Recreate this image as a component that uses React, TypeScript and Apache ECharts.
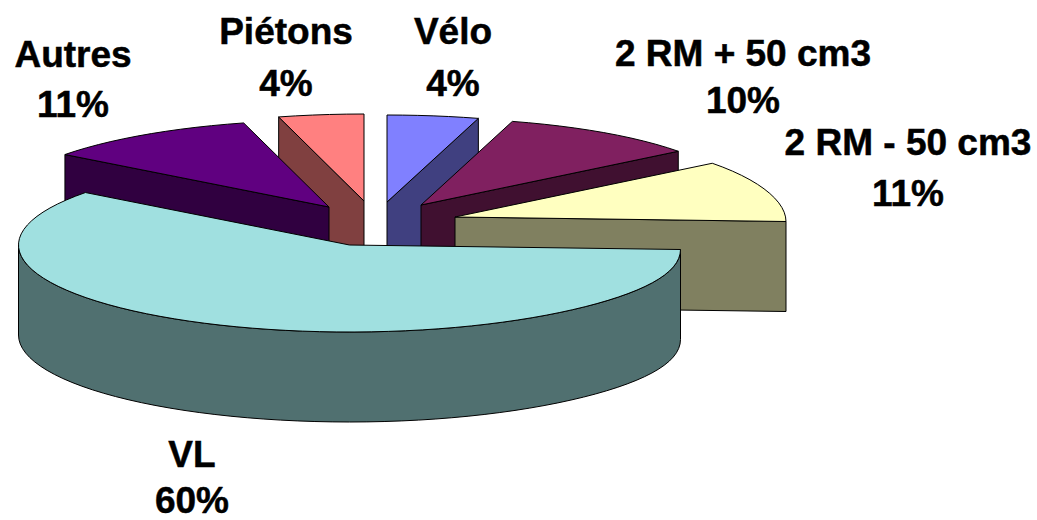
import React, { useEffect, useRef } from "react";
import * as echarts from "echarts";

// Clockwise from 12 o'clock
const categories = ["Vélo", "2 RM + 50 cm3", "2 RM - 50 cm3", "VL", "Autres", "Piétons"];
const values = [4.45, 9.72, 10.83, 60.3, 10.55, 4.15];
const topColors = ["#8080FF", "#802060", "#FFFFC0", "#A0E0E0", "#600080", "#FF8080"];
const sideColors = ["#404080", "#401030", "#808060", "#507070", "#300040", "#804040"];
// Exploded position of each slice's apex
const apexX = [387, 421, 455, 349.5, 329, 364];
const apexY = [202, 205, 217, 245, 207, 201];
// Painter's order, back to front
const drawOrder = [5, 0, 1, 4, 2, 3];
// Label centres: [x, first line y, second line y]
const labelPos = [
  [453, 31, 83],
  [743, 53, 100],
  [908, 142, 193],
  [192, 454, 500],
  [73, 54, 104],
  [286, 31, 83],
];

const RX = 331;
const RY = 87;
const DEPTH = 90;
const DROOP = 4.5;
const STEP = 3;

const total = values.reduce((a, b) => a + b, 0);
const startAngles: number[] = [];
values.reduce((acc, v, i) => {
  startAngles[i] = acc;
  return acc + (v / total) * 360;
}, 0);

function project(i: number, deg: number, dz = 0): number[] {
  const a = (deg * Math.PI) / 180;
  const s = Math.sin(a);
  const droop = s > 0 ? DROOP * Math.pow(s, 6) : 0;
  return [apexX[i] + RX * s, apexY[i] - RY * Math.cos(a) + droop + dz];
}

function arcPoints(i: number, from: number, to: number, dz = 0): number[][] {
  const pts: number[][] = [];
  const n = Math.max(1, Math.ceil((to - from) / STEP));
  for (let k = 0; k <= n; k++) pts.push(project(i, from + ((to - from) * k) / n, dz));
  return pts;
}

function poly(points: number[][], fill: string) {
  return {
    type: "polygon",
    shape: { points },
    style: { fill, stroke: "#000", lineWidth: 1, lineJoin: "round" },
  };
}

function renderItem(_params: any, api: any) {
  const i = api.value(0) as number;
  const a1 = startAngles[i];
  const a2 = a1 + (api.value(1) / total) * 360;
  const apex = [apexX[i], apexY[i]];
  const apexLow = [apexX[i], apexY[i] + DEPTH];
  const children: any[] = [];
  const side = sideColors[i];
  // front part of the rim
  const f1 = Math.max(a1, 90);
  const f2 = Math.min(a2, 270);
  if (f2 > f1) {
    const upper = arcPoints(i, f1, f2);
    const lower = arcPoints(i, f1, f2, DEPTH).reverse();
    children.push(poly([...upper, ...lower], side));
  }
  // radial walls that face the viewer
  if (Math.sin((a1 * Math.PI) / 180) < -1e-6) {
    children.push(poly([apex, project(i, a1), project(i, a1, DEPTH), apexLow], side));
  }
  if (Math.sin((a2 * Math.PI) / 180) > 1e-6) {
    children.push(poly([apex, project(i, a2), project(i, a2, DEPTH), apexLow], side));
  }
  children.push(poly([apex, ...arcPoints(i, a1, a2)], topColors[i]));
  return { type: "group", children };
}

const labelStyle = {
  fontFamily: "Liberation Sans",
  fontWeight: "bold",
  fontSize: 37,
  fill: "#000",
  stroke: "#000",
  lineWidth: 0.5,
  textAlign: "center",
  textVerticalAlign: "middle",
};

export default function App() {
  const ref = useRef<HTMLDivElement>(null);
  useEffect(() => {
    document.body.style.margin = "0";
    const chart = echarts.init(ref.current!, undefined, { renderer: "svg" });
    chart.setOption({
      animation: false,
      backgroundColor: "#fff",
      series: [
        {
          type: "custom",
          coordinateSystem: "none",
          silent: true,
          clip: false,
          renderItem,
          data: drawOrder.map((i) => [i, values[i]]),
        },
      ],
      graphic: {
        elements: categories.flatMap((name, i) => [
          {
            type: "text",
            x: labelPos[i][0],
            y: labelPos[i][1],
            z: 10,
            style: { ...labelStyle, text: name },
          },
          {
            type: "text",
            x: labelPos[i][0],
            y: labelPos[i][2],
            z: 10,
            style: { ...labelStyle, text: `${Math.round(values[i])}%` },
          },
        ]),
      },
    });
    return () => chart.dispose();
  }, []);
  return <div ref={ref} style={{ width: 1037, height: 520 }} />;
}
